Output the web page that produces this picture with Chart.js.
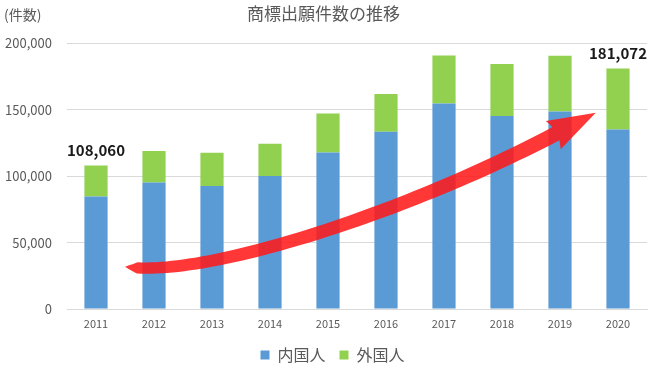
<!DOCTYPE html>
<html>
<head>
<meta charset="utf-8">
<script src="https://cdn.jsdelivr.net/npm/chart.js@4"></script>
<style>
  html, body { margin: 0; padding: 0; background: #fff; }
  #wrap { width: 650px; height: 368px; }
</style>
</head>
<body>
<div id="wrap"><canvas id="trendChart" width="650" height="368"></canvas></div>
<script>
// 商標出願件数 (件)
const years = ['2011', '2012', '2013', '2014', '2015', '2016', '2017', '2018', '2019', '2020'];
const domestic = [84800, 95300, 92600, 100200, 117900, 133500, 154800, 145300, 148800, 135200];
const foreign = [23260, 23710, 25075, 24242, 29383, 28359, 36139, 39183, 41973, 45872];
const labelIndexes = [0, 9]; // totals shown only on first and last bar

const yMax = 200000;
const yStep = 50000;

// red trend arrow, in (category index, value) units
const arrowPath = [[0.5, 31900], [1.79, 22800], [5.24, 70300], [7.93, 132000]];

const FONT = '"Noto Sans CJK JP", "Noto Sans", sans-serif';
const GREY = '#595959';

const extras = {
    id: 'extras',
    afterLayout(chart) {
        // legend sits a little right of centre in the original
        chart.legend.left += 9;
        chart.legend.right += 9;
    },
    afterDatasetsDraw(chart) {
        const ctx = chart.ctx;
        const x = chart.scales.x, y = chart.scales.y;

        // trend arrow
        const p = arrowPath.map(a => [x.getPixelForValue(a[0]), y.getPixelForValue(a[1])]);
        const bez = (t, i) => {
            const u = 1 - t;
            return u * u * u * p[0][i] + 3 * u * u * t * p[1][i] + 3 * u * t * t * p[2][i] + t * t * t * p[3][i];
        };
        const der = (t, i) => {
            const u = 1 - t;
            return 3 * u * u * (p[1][i] - p[0][i]) + 6 * u * t * (p[2][i] - p[1][i]) + 3 * t * t * (p[3][i] - p[2][i]);
        };
        const left = [], right = [];
        const N = 60;
        for (let k = 0; k <= N; k++) {
            const t = k / N;
            const cx = bez(t, 0), cy = bez(t, 1);
            let dx = der(t, 0), dy = der(t, 1);
            const len = Math.hypot(dx, dy) || 1;
            dx /= len; dy /= len;
            const taper = Math.min(1, t / 0.05);
            const w = taper * (11 + 4 * t) / 2;
            left.push([cx - dy * w, cy + dx * w]);
            right.push([cx + dy * w, cy - dx * w]);
        }
        let ex = der(1, 0), ey = der(1, 1);
        const el = Math.hypot(ex, ey);
        ex /= el; ey /= el;
        const end = p[3], hw = 16, hl = 45;

        ctx.save();
        ctx.fillStyle = 'rgba(255, 25, 25, 0.87)';
        ctx.beginPath();
        left.forEach((pt, i) => i ? ctx.lineTo(pt[0], pt[1]) : ctx.moveTo(pt[0], pt[1]));
        ctx.lineTo(end[0] - ey * hw - ex * 3, end[1] + ex * hw - ey * 3);
        ctx.lineTo(end[0] + ex * hl, end[1] + ey * hl);
        ctx.lineTo(end[0] + ey * hw - ex * 3, end[1] - ex * hw - ey * 3);
        for (let k = right.length - 1; k >= 0; k--) ctx.lineTo(right[k][0], right[k][1]);
        ctx.closePath();
        ctx.fill();
        ctx.restore();

        // total labels
        const meta = chart.getDatasetMeta(1);
        ctx.save();
        ctx.font = 'bold 15px ' + FONT;
        ctx.fillStyle = '#1a1a1a';
        ctx.textAlign = 'center';
        ctx.textBaseline = 'middle';
        labelIndexes.forEach(i => {
            const total = domestic[i] + foreign[i];
            const bar = meta.data[i];
            ctx.fillText(total.toLocaleString('en-US'), bar.x, bar.y - 15);
        });
        ctx.restore();

        // unit label
        ctx.save();
        ctx.font = '14px ' + FONT;
        ctx.fillStyle = GREY;
        ctx.textAlign = 'left';
        ctx.textBaseline = 'middle';
        ctx.fillText('(件数)', 4, 15);
        ctx.restore();
    }
};

new Chart(document.getElementById('trendChart').getContext('2d'), {
    type: 'bar',
    data: {
        labels: years,
        datasets: [{
            label: '内国人',
            data: domestic,
            backgroundColor: '#5b9bd5',
            borderWidth: 0
        }, {
            label: '外国人',
            data: foreign,
            backgroundColor: '#92d050',
            borderWidth: 0
        }]
    },
    options: {
        responsive: false,
        animation: false,
        devicePixelRatio: 1,
        layout: { padding: { top: 0, right: 3, bottom: -5, left: 0 } },
        datasets: { bar: { categoryPercentage: 0.8, barPercentage: 0.5 } },
        plugins: {
            title: {
                display: true,
                text: '商標出願件数の推移',
                color: GREY,
                font: { family: FONT, size: 17, weight: 'normal' },
                padding: { top: 3, bottom: 20 }
            },
            legend: {
                position: 'bottom',
                labels: {
                    color: GREY,
                    font: { family: FONT, size: 16 },
                    boxWidth: 9,
                    boxHeight: 9,
                    padding: 14
                }
            },
            tooltip: { enabled: false }
        },
        scales: {
            x: {
                stacked: true,
                grid: { display: false },
                border: { color: '#d9d9d9' },
                ticks: { color: GREY, font: { family: FONT, size: 11 }, padding: 0 },
                afterFit(scale) { scale.height = 24; }
            },
            y: {
                stacked: true,
                min: 0,
                max: yMax,
                ticks: {
                    stepSize: yStep,
                    color: GREY,
                    font: { family: FONT, size: 13 },
                    padding: 15,
                    callback: v => v.toLocaleString('en-US')
                },
                grid: { color: '#d9d9d9', drawTicks: false },
                border: { display: false },
                afterFit(scale) { scale.width = 67; }
            }
        }
    },
    plugins: [extras]
});
</script>
</body>
</html>
